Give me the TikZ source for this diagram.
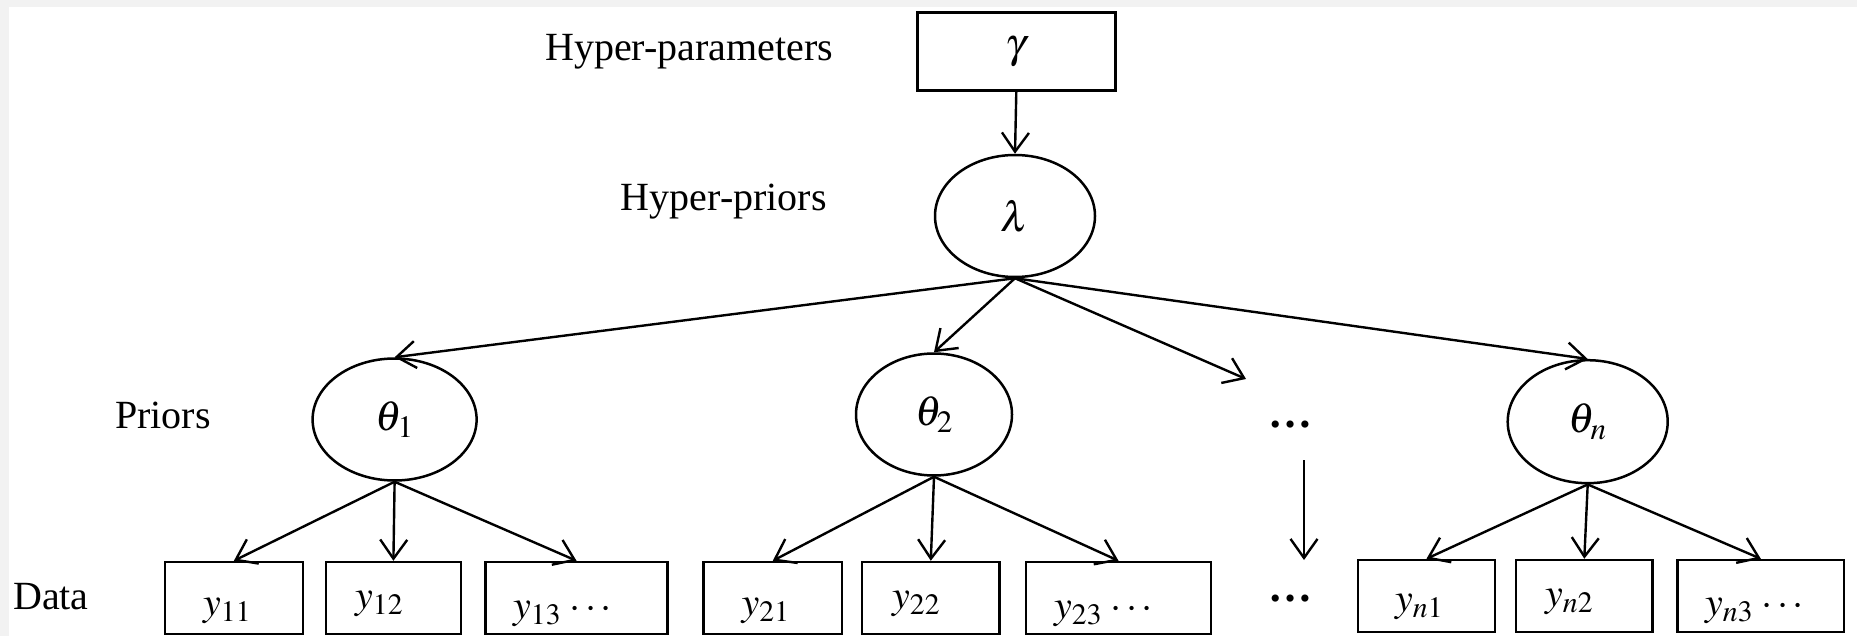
\documentclass[tikz,border=0pt]{standalone}
\usepackage{mathptmx}
\usepackage{fontspec}
\setmainfont{Liberation Serif}
\usetikzlibrary{shapes.geometric,arrows.meta}
\definecolor{bandgray}{HTML}{F2F2F2}
\tikzset{
  lbl/.style={font=\fontsize{40}{48}\selectfont, anchor=base west, inner sep=0pt},
  dtext/.style={font=\fontsize{40}{48}\selectfont, anchor=base west, inner sep=0pt},
  gnode/.style={ellipse, draw, line width=2.5pt, inner sep=0pt, font=\fontsize{42}{50}\selectfont},
  boxnode/.style={rectangle, draw, line width=2.5pt, inner sep=0pt, minimum height=72pt},
  dotsnode/.style={font=\fontsize{44}{50}\selectfont\bfseries, inner sep=0pt},
  arr/.style={line width=2.4pt, -{Straight Barb[length=19pt,width=27pt,line width=2.4pt]}}
}
\begin{document}
\begin{tikzpicture}[x=1pt,y=-1pt]
\useasboundingbox (0,0) rectangle (1857,636);
\fill[white] (0,0) rectangle (1857,636);
\fill[bandgray] (0,0) rectangle (1857,7);
\fill[bandgray] (0,0) rectangle (9,636);

% labels
\node[lbl] (lhp) at (545,60.7) {Hyper-parameters};
\node[lbl] (lhpr) at (620.7,210.7) {Hyper-priors};
\node[lbl] (lpr) at (115,428.3) {Priors};
\node[lbl] (ldata) at (13,609) {Data};

% top nodes
\node[rectangle, draw, line width=2.5pt, minimum width=198pt, minimum height=78pt, inner sep=0pt,
      font=\fontsize{42}{50}\selectfont] (gam) at (1016.3,51.5) {$\gamma$};
\node[gnode, minimum width=160pt, minimum height=122pt] (lam) at (1015,216) {$\lambda$};

% priors
\node[gnode, minimum width=164pt, minimum height=122pt] (th1) at (394.6,419.5) {$\theta_1$};
\node[gnode, minimum width=156pt, minimum height=122pt] (th2) at (934,414.5) {$\theta_2$};
\node[gnode, minimum width=160pt, minimum height=123pt] (thn) at (1587.7,421.7) {$\theta_n$};
\node[dotsnode] (dots1) at (1290,425) {…};
\node[dotsnode] (dots2) at (1290,599) {…};

% data boxes
\node[boxnode, minimum width=137.7pt] (b11) at (233.9,598) {};
\node[boxnode, minimum width=134.7pt] (b12) at (393.4,598) {};
\node[boxnode, minimum width=182pt] (b13) at (576.5,598) {};
\node[boxnode, minimum width=138.4pt] (b21) at (772.8,598) {};
\node[boxnode, minimum width=137.5pt] (b22) at (930.8,598) {};
\node[boxnode, minimum width=185pt] (b23) at (1118.5,598) {};
\node[boxnode, minimum width=137pt] (bn1) at (1426.5,596) {};
\node[boxnode, minimum width=136.6pt] (bn2) at (1584.3,596) {};
\node[boxnode, minimum width=166.5pt] (bn3) at (1760.8,596) {};

% data texts
\node[dtext] (t11) at (203,615) {$y_{11}$};
\node[dtext] (t12) at (355,608) {$y_{12}$};
\node[dtext] (t13) at (513,618) {$y_{13}\,\cdots$};
\node[dtext] (t21) at (741.5,615) {$y_{21}$};
\node[dtext] (t22) at (892,608) {$y_{22}$};
\node[dtext] (t23) at (1054,618) {$y_{23}\,\cdots$};
\node[dtext] (tn1) at (1395,611) {$y_{n1}$};
\node[dtext] (tn2) at (1545,606) {$y_{n2}$};
\node[dtext] (tn3) at (1705,615) {$y_{n3}\,\cdots$};

% connectors
\coordinate (dend) at (1246,379);
\coordinate (va) at (1304,460);
\coordinate (vb) at (1304,560);

\draw[arr] (gam.south) -- (lam.north);
\draw[arr] (lam.south) -- (th1.north);
\draw[arr] (lam.south) -- (th2.north);
\draw[arr] (lam.south) -- (dend);
\draw[arr] (lam.south) -- (thn.north);
\draw[arr] (va) -- (vb);

\foreach \s/\b in {th1/b11,th1/b12,th1/b13,th2/b21,th2/b22,th2/b23,thn/bn1,thn/bn2,thn/bn3}
  \draw[arr] (\s.south) -- (\b.north);
\end{tikzpicture}
\end{document}
